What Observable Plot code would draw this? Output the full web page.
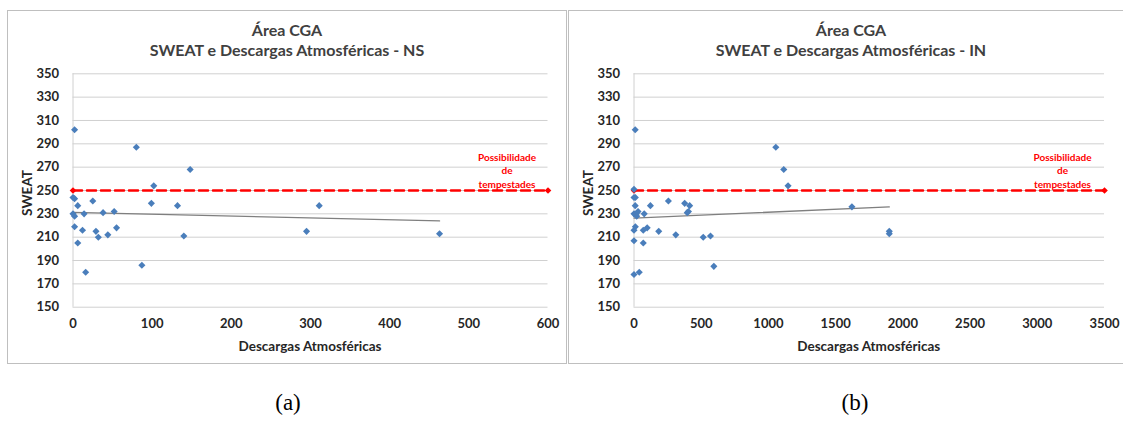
<!DOCTYPE html>
<html>
<head>
<meta charset="utf-8">
<script src="https://cdn.jsdelivr.net/npm/d3@7"></script>
<script src="https://cdn.jsdelivr.net/npm/@observablehq/plot@0.6"></script>
<style>
  html, body { margin: 0; padding: 0; background: #fff; }
  #wrap { position: relative; width: 1123px; height: 421px; overflow: hidden; background: #fff; font-family: Lato, "Open Sans", sans-serif; }
  .panel { position: absolute; top: 10px; height: 352px; border: 1px solid #bfbfbf; background: #fff; }
  .title { position: absolute; left: 0; right: 0; top: 9px; text-align: center; font-weight: bold; font-size: 16px; line-height: 20px; color: #404040; }
  .xlab { position: absolute; font-weight: bold; font-size: 13.5px; color: #262626; transform: translate(-50%, -50%); white-space: nowrap; }
  .ylab { position: absolute; font-weight: bold; font-size: 13.5px; color: #262626; transform: translate(-50%, -50%) rotate(-90deg); white-space: nowrap; }
  .cap { position: absolute; top: 390px; font-family: "Liberation Serif", "DejaVu Serif", serif; font-size: 23px; color: #000; transform: translateX(-50%); }
  .panel svg { position: absolute; left: 0; top: 0; }
</style>
</head>
<body>
<div id="wrap">
  <div class="panel" id="pa" style="left:7px; width:558px;">
    <div class="title">Área CGA<br>SWEAT e Descargas Atmosféricas - NS</div>
  </div>
  <div class="panel" id="pb" style="left:568px; width:564px;">
    <div class="title">Área CGA<br>SWEAT e Descargas Atmosféricas - IN</div>
  </div>
  <div class="cap" style="left:288px;">(a)</div>
  <div class="cap" style="left:855px;">(b)</div>
</div>
<script>
// ---- Data ----
const nsDescargas = [2, 80, 148, 102, 0, 2, 25, 6, 99, 132, 311, 0, 2, 14, 38, 52, 2, 12, 29, 32, 44, 55, 140, 295, 463, 6, 16, 87];
const nsSweat     = [302, 287, 268, 254, 244, 243, 241, 237, 239, 237, 237, 230, 228, 230, 231, 232, 219, 216, 215, 210, 212, 218, 211, 215, 213, 205, 180, 186];

const inDescargas = [9, 1055, 1114, 1146, 0, 0, 10, 9, 122, 256, 377, 414, 396, 405, 0, 17, 30, 20, 76, 10, 0, 69, 98, 184, 311, 0, 69, 515, 569, 594, 0, 39, 1621, 1899, 1899];
const inSweat     = [302, 287, 268, 254, 251, 244, 244, 237, 237, 241, 239, 237, 231, 232, 230, 230, 232, 228, 230, 219, 216, 216, 218, 215, 212, 207, 205, 210, 211, 185, 178, 180, 236, 215, 213];

const sweatTicks = [150, 170, 190, 210, 230, 250, 270, 290, 310, 330, 350];
const nsTicks = [0, 100, 200, 300, 400, 500, 600];
const inTicks = [0, 500, 1000, 1500, 2000, 2500, 3000, 3500];
const limiar = 250;
const limiarLabel = "Possibilidade\nde\ntempestades";
const xAxisTitle = "Descargas Atmosféricas";
const yAxisTitle = "SWEAT";

function makePanel(el, xs, ys, xTicks, cfg) {
  const data = xs.map((x, i) => ({x, y: ys[i]}));
  const xMax = xTicks[xTicks.length - 1];
  const threshold = [{x: xTicks[0], y: limiar}, {x: xMax, y: limiar}];
  const chart = Plot.plot({
    width: cfg.width,
    height: 352,
    marginLeft: cfg.ml,
    marginRight: cfg.mr,
    marginTop: 62.3,
    marginBottom: 56.3,
    style: {fontFamily: "Lato, 'Open Sans', sans-serif", color: "#262626", background: "transparent", overflow: "visible"},
    x: {domain: [xTicks[0], xMax]},
    y: {domain: [sweatTicks[0], sweatTicks[sweatTicks.length - 1]]},
    marks: [
      Plot.gridY(sweatTicks, {stroke: "#d0d0d0", strokeOpacity: 1, strokeWidth: 1}),
      Plot.ruleX([xTicks[0]], {stroke: "#d0d0d0", strokeWidth: 1}),
      Plot.axisY(sweatTicks, {tickSize: 0, tickPadding: 14, label: null, fontSize: 13, fontWeight: "bold", tickFormat: d3.format("d")}),
      Plot.axisX(xTicks, {tickSize: 0, tickPadding: 12, label: null, fontSize: 13, fontWeight: "bold", tickFormat: d3.format("d")}),
      Plot.linearRegressionY(data, {x: "x", y: "y", stroke: "#7f7f7f", strokeWidth: 1.3, ci: 0}),
      Plot.line(threshold, {x: "x", y: "y", stroke: "#ff0000", strokeWidth: 2.6, strokeDasharray: "9,5"}),
      Plot.dot(threshold, {x: "x", y: "y", symbol: "diamond2", r: 3, fill: "#ff0000"}),
      Plot.dot(data, {x: "x", y: "y", symbol: "diamond2", r: 3.2, fill: "#4a7ebb"}),
      Plot.text(threshold.slice(-1), {x: "x", y: "y", text: () => limiarLabel, dx: cfg.labelDx, dy: -3,
        lineAnchor: "bottom", textAnchor: "middle", fill: "#ff0000", fontWeight: "bold", fontSize: 10, lineHeight: 1.35})
    ]
  });
  el.appendChild(chart);
  // axis titles
  const plotLeft = cfg.ml, plotRight = cfg.width - cfg.mr;
  const xl = document.createElement("div");
  xl.className = "xlab";
  xl.textContent = xAxisTitle;
  xl.style.left = ((plotLeft + plotRight) / 2) + "px";
  xl.style.top = "335px";
  el.appendChild(xl);
  const yl = document.createElement("div");
  yl.className = "ylab";
  yl.textContent = yAxisTitle;
  yl.style.left = "19px";
  yl.style.top = "182px";
  el.appendChild(yl);
}

makePanel(document.getElementById("pa"), nsDescargas, nsSweat, nsTicks, {width: 558, ml: 64.5, mr: 18.5, labelDx: -41});
makePanel(document.getElementById("pb"), inDescargas, inSweat, inTicks, {width: 564, ml: 64.5, mr: 29, labelDx: -42});
</script>
</body>
</html>
